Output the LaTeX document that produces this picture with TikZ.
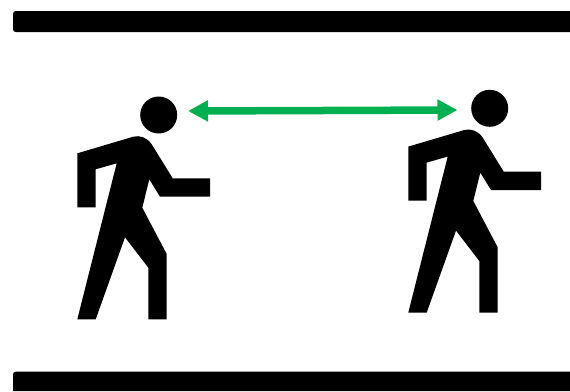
\documentclass[tikz,border=0pt]{standalone}
\usetikzlibrary{arrows.meta}
\definecolor{linkgreen}{HTML}{00B050}
\tikzset{
  walker/.pic={
    \fill[black] (77.3,153.3) -- (133.3,136.7)
      .. controls (140,135) and (147,137.5) .. (151.7,144.3)
      -- (172.7,178.3) -- (210,178.3) -- (210,196.7) -- (160,196.7)
      -- (149.3,179.3) -- (142.3,207.7) -- (166.7,254) -- (166.7,319.3)
      -- (148.3,319.3) -- (148.3,267.7) -- (125,237.3) -- (95.7,319.3)
      -- (77.3,319.3) -- (116.7,163.3) -- (95.7,169.3) -- (95.7,207.3)
      -- (77.3,207.3) -- cycle;
    \fill[black] (158.7,115) circle[radius=18.5];
  },
  barfill/.style={fill=black},
  link/.style={draw=linkgreen,line width=7.5pt,
    {Triangle[length=20pt,width=20pt]}-{Triangle[length=20pt,width=20pt]}}
}
\begin{document}
\begin{tikzpicture}[x=1pt,y=-1pt]
  \useasboundingbox (0,0) rectangle (570,391);
  \fill[white] (0,0) rectangle (570,391);
  \fill[barfill] (570,11) -- (16,11) .. controls (14,11) and (13,12) .. (13,14)
    -- (13,29) .. controls (13,31) and (14,32) .. (16,32) -- (570,32) -- cycle;
  \fill[barfill] (570,371.7) -- (16,371.7) .. controls (14,371.7) and (13,372.7) .. (13,374.7)
    -- (13,391) -- (570,391) -- cycle;
  \pic at (0,0) {walker};
  \pic at (331,-6.7) {walker};
  \coordinate (leftEnd) at (188,111);
  \coordinate (rightEnd) at (457.5,110);
  \draw[link] (leftEnd) -- (rightEnd);
\end{tikzpicture}
\end{document}
